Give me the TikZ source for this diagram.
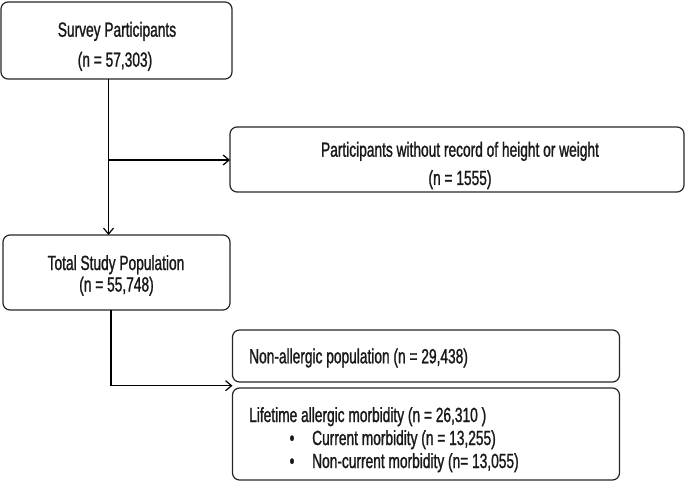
\documentclass[tikz,border=0pt]{standalone}
\usepackage{fontspec}
\setmainfont{Liberation Sans}[FakeStretch=0.67,FakeBold=1.2]
\usetikzlibrary{arrows.meta}
\begin{document}
\begin{tikzpicture}[x=1pt,y=-1pt,
  box/.style={draw=black!85, line width=1.2pt, rounded corners=7pt, inner sep=0pt, outer sep=0pt},
  txt/.style={inner sep=0pt, font=\fontsize{20.5}{22}\selectfont, text=black!90},
  arr/.style={line width=1.4pt, -{Straight Barb[length=6pt,width=10pt,line width=1.2pt]}},
  conn/.style={line width=1.4pt}]
\useasboundingbox (0,0) rectangle (685,481);
% boxes
\node[box, minimum width=231pt, minimum height=77pt] (b1) at (116.5,40.5) {};
\node[box, minimum width=454pt, minimum height=65pt] (b2) at (457,159.5) {};
\node[box, minimum width=227pt, minimum height=75pt] (b3) at (116.5,272.5) {};
\node[box, minimum width=387pt, minimum height=52pt] (b4) at (426,356) {};
\node[box, minimum width=387pt, minimum height=92pt] (b5) at (426,434) {};
% texts
\node[txt, anchor=base] (t1a) at (117,36.7) {Survey Participants};
\node[txt, anchor=base] (t1b) at (115,66.7) {(n = 57,303)};
\node[txt, anchor=base] (t2a) at (460,156.7) {Participants without record of height or weight};
\node[txt, anchor=base] (t2b) at (460,185) {(n = 1555)};
\node[txt, anchor=base] (t3a) at (116,270) {Total Study Population};
\node[txt, anchor=base] (t3b) at (116.5,291.5) {(n = 55,748)};
\node[txt, anchor=base west] (t4) at (249,363.3) {Non-allergic population (n = 29,438)};
\node[txt, anchor=base west] (t5a) at (249,422) {Lifetime allergic morbidity (n = 26,310 )};
\node[txt, anchor=base] (bu1) at (292,445) {\textbullet};
\node[txt, anchor=base west] (t5b) at (312,445) {Current morbidity (n = 13,255)};
\node[txt, anchor=base] (bu2) at (292,468) {\textbullet};
\node[txt, anchor=base west] (t5c) at (312,468) {Non-current morbidity (n= 13,055)};
% connectors
\coordinate (j1) at (108.5,160);
\coordinate (j2) at (111,385.7);
\draw[arr] (b1.south -| j1) -- (b3.north -| j1);
\draw[arr] (j1) -- (j1 -| b2.west);
\draw[arr] (b3.south -| j2) -- (j2) -- (j2 -| b4.west);
\end{tikzpicture}
\end{document}
